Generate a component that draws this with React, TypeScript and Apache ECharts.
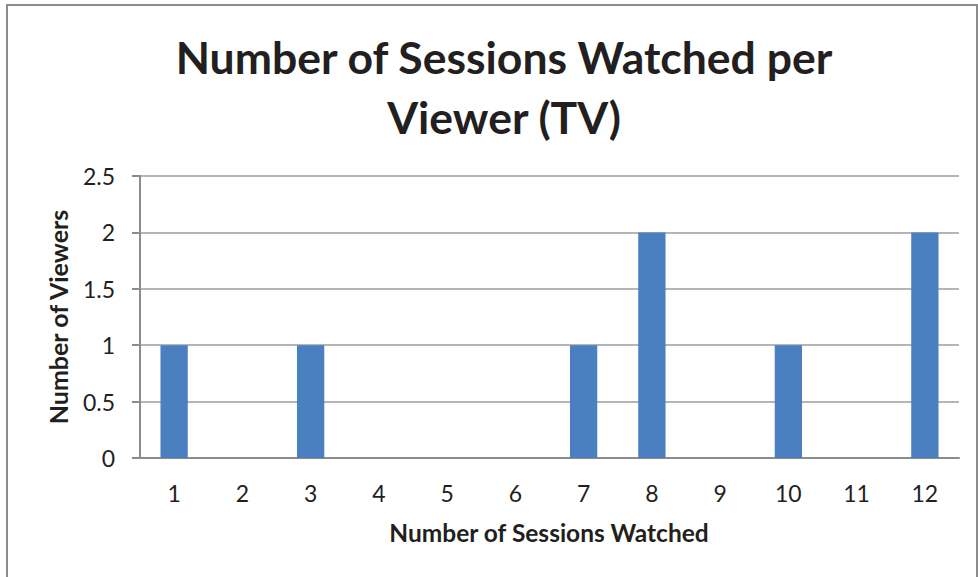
import React, { useEffect, useRef } from "react";
import * as echarts from "echarts";

const categories = ["1", "2", "3", "4", "5", "6", "7", "8", "9", "10", "11", "12"];
const viewers = [1, 0, 1, 0, 0, 0, 1, 2, 0, 1, 0, 2];
const titleLines = ["Number of Sessions Watched per", "Viewer (TV)"];
const xName = "Number of Sessions Watched";
const yName = "Number of Viewers";

const FONT = "Lato";

export default function App() {
  const ref = useRef<HTMLDivElement>(null);
  useEffect(() => {
    if (!ref.current) return;
    const chart = echarts.init(ref.current, null, { renderer: "svg" });
    chart.setOption({
      animation: false,
      backgroundColor: "#ffffff",
      textStyle: { fontFamily: FONT },
      title: {
        text: titleLines.join("\n"),
        left: 499,
        top: 21,
        textAlign: "center",
        textStyle: {
          fontFamily: FONT,
          fontSize: 44.5,
          fontWeight: "bold",
          color: "#231f20",
          lineHeight: 60,
        },
      },
      graphic: [
        {
          type: "rect",
          shape: { x: 7, y: 5, width: 970, height: 600 },
          style: { fill: "none", stroke: "#8c8c8c", lineWidth: 2 },
          silent: true,
        },
        {
          type: "text",
          x: 549,
          y: 532,
          style: {
            text: xName,
            fontFamily: FONT,
            fontSize: 24.5,
            fontWeight: "bold",
            fill: "#231f20",
            align: "center",
            verticalAlign: "middle",
          },
        },
      ],
      grid: { left: 140, right: 19, top: 176, bottom: 119 },
      xAxis: {
        type: "category",
        data: categories,
        axisLine: { show: true, lineStyle: { color: "#8c8c8c", width: 2 } },
        axisTick: { show: false },
        axisLabel: { fontSize: 23, color: "#231f20", margin: 23, fontFamily: FONT },
      },
      yAxis: {
        type: "value",
        min: 0,
        max: 2.5,
        interval: 0.5,
        name: yName,
        nameLocation: "middle",
        nameGap: 70,
        nameTextStyle: { fontSize: 25, fontWeight: "bold", color: "#231f20", fontFamily: FONT },
        axisLine: { show: true, lineStyle: { color: "#8c8c8c", width: 2 } },
        axisTick: { show: true, length: 8, lineStyle: { color: "#8c8c8c", width: 2 } },
        axisLabel: { fontSize: 23, color: "#231f20", margin: 25, fontFamily: FONT },
        splitLine: { show: true, lineStyle: { color: "#9c9c9c", width: 1.5 } },
      },
      series: [
        {
          type: "bar",
          data: viewers,
          barWidth: "40%",
          itemStyle: { color: "#4a7fc0" },
        },
      ],
    });
    return () => chart.dispose();
  }, []);
  return (
    <div
      ref={ref}
      style={{ position: "fixed", left: 0, top: 0, width: 978, height: 577 }}
    />
  );
}
